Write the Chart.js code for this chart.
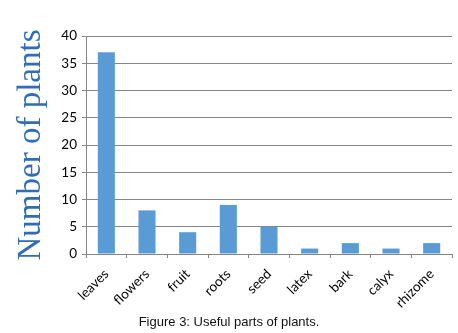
<!DOCTYPE html>
<html>
<head>
<meta charset="utf-8">
<script src="https://cdn.jsdelivr.net/npm/chart.js@4"></script>
<style>
  html, body { margin: 0; padding: 0; background: #fff; }
  #wrap { position: relative; width: 458px; height: 333px; }
  #c { position: absolute; left: 0; top: 0; }
  #caption { position: absolute; left: 0; width: 458px; top: 314px; text-align: center;
    font-family: "Liberation Sans", Arial, sans-serif; font-size: 13px; color: #111; }
</style>
</head>
<body>
<div id="wrap">
  <canvas id="c" width="458" height="333"></canvas>
  <div id="caption">Figure 3: Useful parts of plants.</div>
</div>
<script>
const categories = ["leaves", "flowers", "fruit", "roots", "seed", "latex", "bark", "calyx", "rhizome"];
const plantCounts = [37, 8, 4, 9, 5, 1, 2, 1, 2];
const yTicks = [0, 5, 10, 15, 20, 25, 30, 35, 40];
const yTitle = "Number of plants";

new Chart(document.getElementById('c'), {
  type: 'bar',
  data: {
    labels: categories,
    datasets: [{
      data: plantCounts,
      backgroundColor: '#5B9BD5',
      borderWidth: 0,
      categoryPercentage: 1,
      barPercentage: 0.42
    }]
  },
  options: {
    responsive: false,
    animation: false,
    events: [],
    layout: { padding: { top: 36, right: 6, left: 0, bottom: 0 } },
    plugins: { legend: { display: false }, tooltip: { enabled: false }, title: { display: false } },
    scales: {
      x: {
        offset: true,
        grid: { display: true, drawOnChartArea: false, drawTicks: true, tickLength: 4, offset: true, color: '#868686' },
        border: { display: true, color: '#868686', width: 1 },
        ticks: { minRotation: 45, maxRotation: 45, color: '#000', padding: 8,
          font: { family: 'Lato, "Liberation Sans", sans-serif', size: 13.5 } },
        afterFit: s => { s.height = 79; }
      },
      y: {
        min: 0, max: 40,
        afterBuildTicks: s => { s.ticks = yTicks.map(v => ({ value: v })); },
        grid: { color: '#868686', lineWidth: 1, drawTicks: true, tickLength: 4 },
        border: { display: true, color: '#868686', width: 1 },
        ticks: { color: '#000', padding: 5, font: { family: 'Lato, "Liberation Sans", sans-serif', size: 13.5 } },
        title: { display: true, text: yTitle, color: '#2F6DB5', padding: { top: 12, bottom: 4 },
          font: { family: '"Liberation Serif", "Times New Roman", serif', size: 33 } },
        afterFit: s => { s.width = 86; }
      }
    }
  }
});
</script>
</body>
</html>
